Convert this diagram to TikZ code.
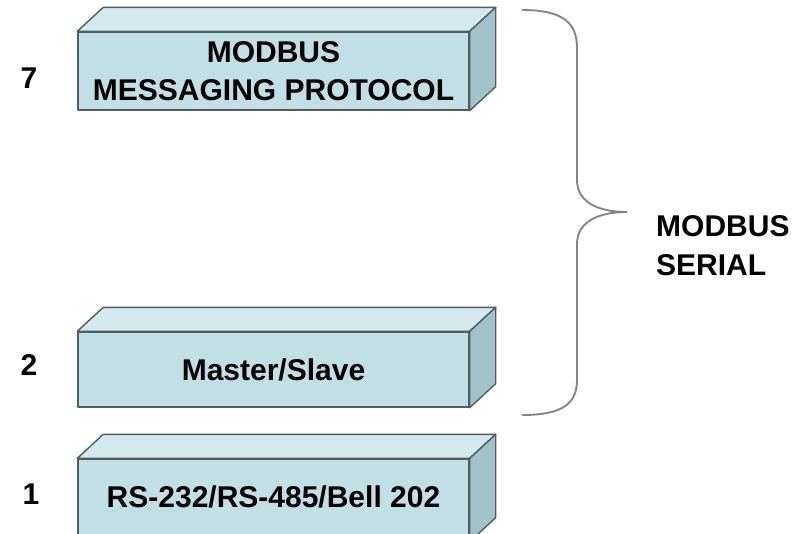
\documentclass[tikz,border=0pt]{standalone}
\usepackage{fontspec}
\setmainfont{Liberation Sans}
\usetikzlibrary{calc}
\definecolor{frontc}{HTML}{C3DFE6}
\definecolor{topc}{HTML}{D4E9EE}
\definecolor{sidec}{HTML}{A2C2CA}
\definecolor{edgec}{HTML}{4E5E63}
\definecolor{bracec}{HTML}{858585}
\begin{document}
\begin{tikzpicture}[x=1pt,y=-1pt,
  face/.style={draw=edgec,line width=1.4pt,line join=round},
  frontbox/.style={face,fill=frontc,rectangle,minimum width=391pt,inner sep=0pt,
    align=center,font=\fontsize{30}{37}\selectfont\bfseries},
  lbl/.style={font=\fontsize{30}{34}\selectfont\bfseries,inner sep=0pt},
  bracestyle/.style={draw=bracec,line width=1.9pt}]
\useasboundingbox (0,0) rectangle (792,533);
\begin{scope}
\clip (0,0) rectangle (792,533);
\node[frontbox,minimum height=78pt] (f7) at (273.5,71) {\raisebox{1pt}{MODBUS}\\MESSAGING PROTOCOL};
\node[frontbox,minimum height=75pt] (f2) at (273.5,369.5) {Master/Slave};
\node[frontbox,minimum height=82pt] (f1) at (273.5,500) {\raisebox{7pt}{RS-232/RS-485/Bell 202}};
\foreach \nm in {f7,f2,f1}{
  \filldraw[face,fill=topc] (\nm.north west) -- ++(26,-24) -- ($(\nm.north east)+(26,-24)$) -- (\nm.north east) -- cycle;
  \filldraw[face,fill=sidec] (\nm.north east) -- ++(26,-24) -- ($(\nm.south east)+(26,-24)$) -- (\nm.south east) -- cycle;
}
\end{scope}
\node[lbl] (n7) at (29,78) {7};
\node[lbl] (n2) at (29,365) {2};
\node[lbl] (n1) at (31,494) {1};
\coordinate (bt) at (522,10);
\coordinate (tip) at (627,212);
\coordinate (bb) at (522,415);
\draw[bracestyle] (bt) .. controls (562,10) and (577,22) .. (577,48)
  -- (577,180) .. controls (577,202) and (598,212) .. (tip)
  .. controls (598,212) and (577,222) .. (577,244)
  -- (577,380) .. controls (577,404) and (562,415) .. (bb);
\node[lbl,anchor=west,align=left,font=\fontsize{30}{39}\selectfont\bfseries] (ms) at (656,246) {MODBUS\\SERIAL};
\end{tikzpicture}
\end{document}
